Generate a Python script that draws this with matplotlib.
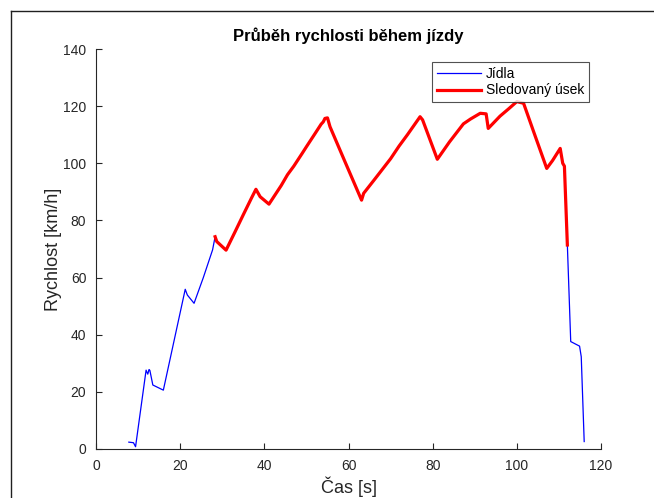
import matplotlib
matplotlib.use("Agg")
import matplotlib.pyplot as plt
from matplotlib.lines import Line2D
import numpy as np


# ==========================
# data
# ==========================

cas = [7.8, 8.9, 9.4, 11.9, 12.3, 12.6, 12.8, 13.5, 16.0, 21.2, 21.7, 23.3,
       25.5, 27.7, 28.3, 28.7, 30.9, 33.0, 35.0, 37.0, 38.0, 39.0, 41.1,
       44.0, 45.5, 47.0, 49.0, 50.0, 52.0, 53.5, 54.0, 54.4, 55.0, 55.6,
       59.0, 63.1, 63.6, 66.0, 70.0, 72.0, 74.0, 77.0, 77.6, 81.1, 84.0,
       87.3, 89.0, 91.3, 92.7, 93.2, 96.0, 98.0, 100.0, 101.6, 104.0,
       107.1, 108.5, 110.3, 110.9, 111.3, 112.0, 112.8, 114.9, 115.3, 116.0]

rychlost = [2.4, 2.2, 0.8, 27.6, 26.2, 27.8, 27.5, 22.4, 20.6, 55.9, 53.9,
            51.0, 60.0, 69.7, 74.3, 72.6, 69.6, 75.9, 82.0, 88.0, 90.9, 88.3,
            85.7, 92.2, 96.0, 99.0, 103.5, 105.8, 110.3, 113.7, 114.5, 115.7,
            115.9, 112.8, 101.1, 87.1, 89.5, 94.0, 101.6, 106.0, 110.0, 116.3,
            115.2, 101.4, 107.5, 113.8, 115.5, 117.5, 117.3, 112.2, 116.5,
            119.0, 121.6, 121.0, 111.0, 98.2, 101.0, 105.2, 100.0, 99.0, 71.4,
            37.6, 36.0, 32.3, 2.6]

# sledovany usek
usek_od = 28.3
usek_do = 112.0

cas = np.array(cas)
rychlost = np.array(rychlost)
maska = (cas >= usek_od) & (cas <= usek_do)


# ==========================
# graf
# ==========================

plt.rcParams["font.family"] = ["Liberation Sans", "DejaVu Sans"]
barva_os = "#262626"

fig = plt.figure(figsize=(6.54, 4.98), dpi=100)
ax = fig.add_axes([0.1468, 0.0984, 0.7722, 0.8032])

ax.plot(cas, rychlost, color="#0000ff", linewidth=0.9, label="Jídla")
ax.plot(cas[maska], rychlost[maska], color="#ff0000", linewidth=2.3,
        label="Sledovaný úsek")

ax.set_xlim(0, 120)
ax.set_ylim(0, 140)
ax.set_xticks(range(0, 121, 20))
ax.set_yticks(range(0, 141, 20))

for s in ["top", "right"]:
    ax.spines[s].set_visible(False)
for s in ["left", "bottom"]:
    ax.spines[s].set_color(barva_os)
    ax.spines[s].set_linewidth(0.8)

ax.tick_params(direction="in", length=4, width=0.8, colors=barva_os,
               labelsize=10, pad=7)

ax.set_xlabel("Čas [s]", fontsize=13, color=barva_os, labelpad=3)
ax.set_ylabel("Rychlost [km/h]", fontsize=13, color=barva_os, labelpad=1)
ax.set_title("Průběh rychlosti během jízdy", fontsize=12, fontweight="bold",
             pad=6)

leg = ax.legend(loc="upper right", bbox_to_anchor=(0.977, 0.968),
                fontsize=10, frameon=True, fancybox=False,
                edgecolor=barva_os, handlelength=3.2, borderpad=0.35,
                labelspacing=0.2, handletextpad=0.35, borderaxespad=0)
leg.get_frame().set_linewidth(0.8)

# ramecek okna
fig.add_artist(Line2D([0.0168, 1.0], [0.978, 0.978], color="#202020",
                      linewidth=1.0))
fig.add_artist(Line2D([0.0168, 0.0168], [0.0, 0.978], color="#202020",
                      linewidth=1.0))

fig.savefig("out.png", dpi=100)
plt.close(fig)
